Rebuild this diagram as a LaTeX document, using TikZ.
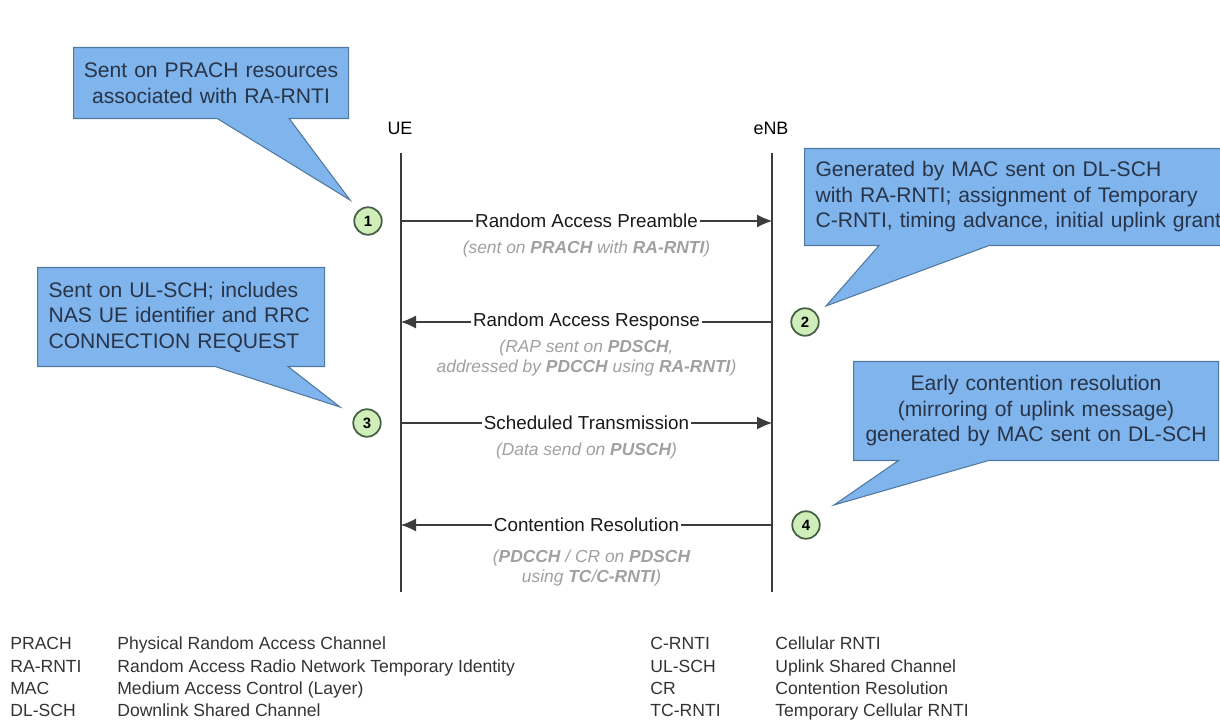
\documentclass[tikz,border=0pt]{standalone}
\usepackage{fontspec}
\setmainfont{Liberation Sans}
\usetikzlibrary{shapes.callouts,positioning,arrows.meta}

\definecolor{noteblue}{RGB}{128,180,236}
\definecolor{noteedge}{RGB}{80,120,160}
\definecolor{notetext}{RGB}{40,52,72}
\definecolor{numgreen}{RGB}{208,238,186}
\definecolor{numedge}{RGB}{70,96,70}
\definecolor{subgray}{RGB}{160,160,160}
\definecolor{linegray}{RGB}{60,60,60}

\tikzset{
  note/.style={rectangle callout, draw=noteedge, fill=noteblue, text=notetext,
    line width=0.6pt, anchor=north west, inner xsep=0.22cm, inner ysep=0pt,
    font=\fontsize{12}{14.5}\selectfont},
  num/.style={circle, draw=numedge, fill=numgreen, line width=1pt,
    minimum size=0.55cm, inner sep=0pt, font=\fontsize{8.5}{10}\selectfont\bfseries},
  life/.style={draw=linegray, line width=0.6pt},
  msg/.style={draw=linegray, line width=0.6pt, -{Latex[length=3mm,width=2.6mm]}},
  msgtext/.style={fill=white, inner xsep=1pt, inner ysep=1pt, text=black!90,
    font=\fontsize{10.7}{12}\selectfont},
  subtext/.style={text=subgray, align=center, inner sep=0pt,
    font=\fontsize{9.9}{11.4}\selectfont\itshape},
  abbr/.style={anchor=base west, inner sep=0pt, text=black!80,
    font=\fontsize{10}{11}\selectfont}
}

\begin{document}
\begin{tikzpicture}
    \useasboundingbox (0,0) rectangle (24.4,14.52);
    \clip (0,0) rectangle (24.4,14.52);

    % the two peers
    \node (ue)  at (8.0,11.96)  {\fontsize{10.2}{12}\selectfont UE};
    \node (enb) at (15.42,11.96) {\fontsize{10.2}{12}\selectfont eNB};
    \coordinate (ueTop)  at (8.02,11.46);
    \coordinate (ueBot)  at (8.02,2.68);
    \coordinate (enbTop) at (15.44,11.46);
    \coordinate (enbBot) at (15.44,2.68);
    \draw [life] (ueTop) -- (ueBot);
    \draw [life] (enbTop) -- (enbBot);

    % message end points
    \coordinate (ue1)  at (8.02,10.10);
    \coordinate (enb1) at (15.44,10.10);
    \coordinate (ue2)  at (8.02,8.08);
    \coordinate (enb2) at (15.44,8.08);
    \coordinate (ue3)  at (8.02,6.06);
    \coordinate (enb3) at (15.44,6.06);
    \coordinate (ue4)  at (8.02,4.02);
    \coordinate (enb4) at (15.44,4.02);

    % messages
    \draw [msg] (ue1) -- node [msgtext] (msg1) {Random Access Preamble} (enb1);
    \node [subtext, below=0.2cm of msg1] (sub1)
        {(sent on \textbf{PRACH} with \textbf{RA-RNTI})};

    \draw [msg] (enb2) -- node [msgtext] (msg2) {Random Access Response} (ue2);
    \node [subtext, below=0.12cm of msg2] (sub2)
        {(RAP sent on \textbf{PDSCH},\\ addressed by \textbf{PDCCH} using \textbf{RA-RNTI})};

    \draw [msg] (ue3) -- node [msgtext] (msg3) {Scheduled Transmission} (enb3);
    \node [subtext, below=0.2cm of msg3] (sub3)
        {(Data send on \textbf{PUSCH})};

    \draw [msg] (enb4) -- node [msgtext] (msg4) {Contention Resolution} (ue4);
    \node [subtext, below=0.3cm of msg4, xshift=0.1cm] (sub4)
        {(\textbf{PDCCH} / CR on \textbf{PDSCH}\\ using \textbf{TC}/\textbf{C-RNTI})};

    % callouts
    \node [note, at={(1.46,13.58)}, text width=5.3cm, align=center, inner xsep=0.1cm,
        minimum height=1.42cm, callout pointer width=1.44cm,
        callout absolute pointer={(7.0,10.52)}] (note1)
        {Sent on PRACH resources\\ associated with RA-RNTI};

    \node [note, at={(16.08,11.56)}, text width=8.2cm, align=left,
        minimum height=1.94cm, callout pointer width=2.2cm,
        callout absolute pointer={(16.52,8.40)}] (note2)
        {Generated by MAC sent on DL-SCH\\ with RA-RNTI; assignment of Temporary\\ C-RNTI, timing advance, initial uplink grant};

    \node [note, at={(0.74,9.18)}, text width=5.3cm, align=left,
        minimum height=1.98cm, callout pointer width=1.46cm,
        callout absolute pointer={(6.8,6.38)}] (note3)
        {Sent on UL-SCH; includes\\ NAS UE identifier and RRC\\ CONNECTION REQUEST};

    \node [note, at={(17.06,7.30)}, text width=6.86cm, align=center,
        minimum height=1.98cm, callout pointer width=1.8cm,
        callout absolute pointer={(16.68,4.42)}] (note4)
        {Early contention resolution\\ (mirroring of uplink message)\\ generated by MAC sent on DL-SCH};

    % step numbers
    \node [num] (n1) at (7.36,10.10) {1};
    \node [num] (n2) at (16.10,8.08) {2};
    \node [num] (n3) at (7.34,6.06) {3};
    \node [num] (n4) at (16.12,4.02) {4};

    % abbreviations
    \node [abbr] (ab1) at (0.2,1.54) {PRACH};
    \node [abbr] (ds1) at (2.34,1.54) {Physical Random Access Channel};
    \node [abbr] (ab2) at (0.2,1.08) {RA-RNTI};
    \node [abbr] (ds2) at (2.34,1.08) {Random Access Radio Network Temporary Identity};
    \node [abbr] (ab3) at (0.2,0.64) {MAC};
    \node [abbr] (ds3) at (2.34,0.64) {Medium Access Control (Layer)};
    \node [abbr] (ab4) at (0.2,0.20) {DL-SCH};
    \node [abbr] (ds4) at (2.34,0.20) {Downlink Shared Channel};

    \node [abbr] (ab5) at (13.0,1.54) {C-RNTI};
    \node [abbr] (ds5) at (15.5,1.54) {Cellular RNTI};
    \node [abbr] (ab6) at (13.0,1.08) {UL-SCH};
    \node [abbr] (ds6) at (15.5,1.08) {Uplink Shared Channel};
    \node [abbr] (ab7) at (13.0,0.64) {CR};
    \node [abbr] (ds7) at (15.5,0.64) {Contention Resolution};
    \node [abbr] (ab8) at (13.0,0.20) {TC-RNTI};
    \node [abbr] (ds8) at (15.5,0.20) {Temporary Cellular RNTI};
\end{tikzpicture}
\end{document}
